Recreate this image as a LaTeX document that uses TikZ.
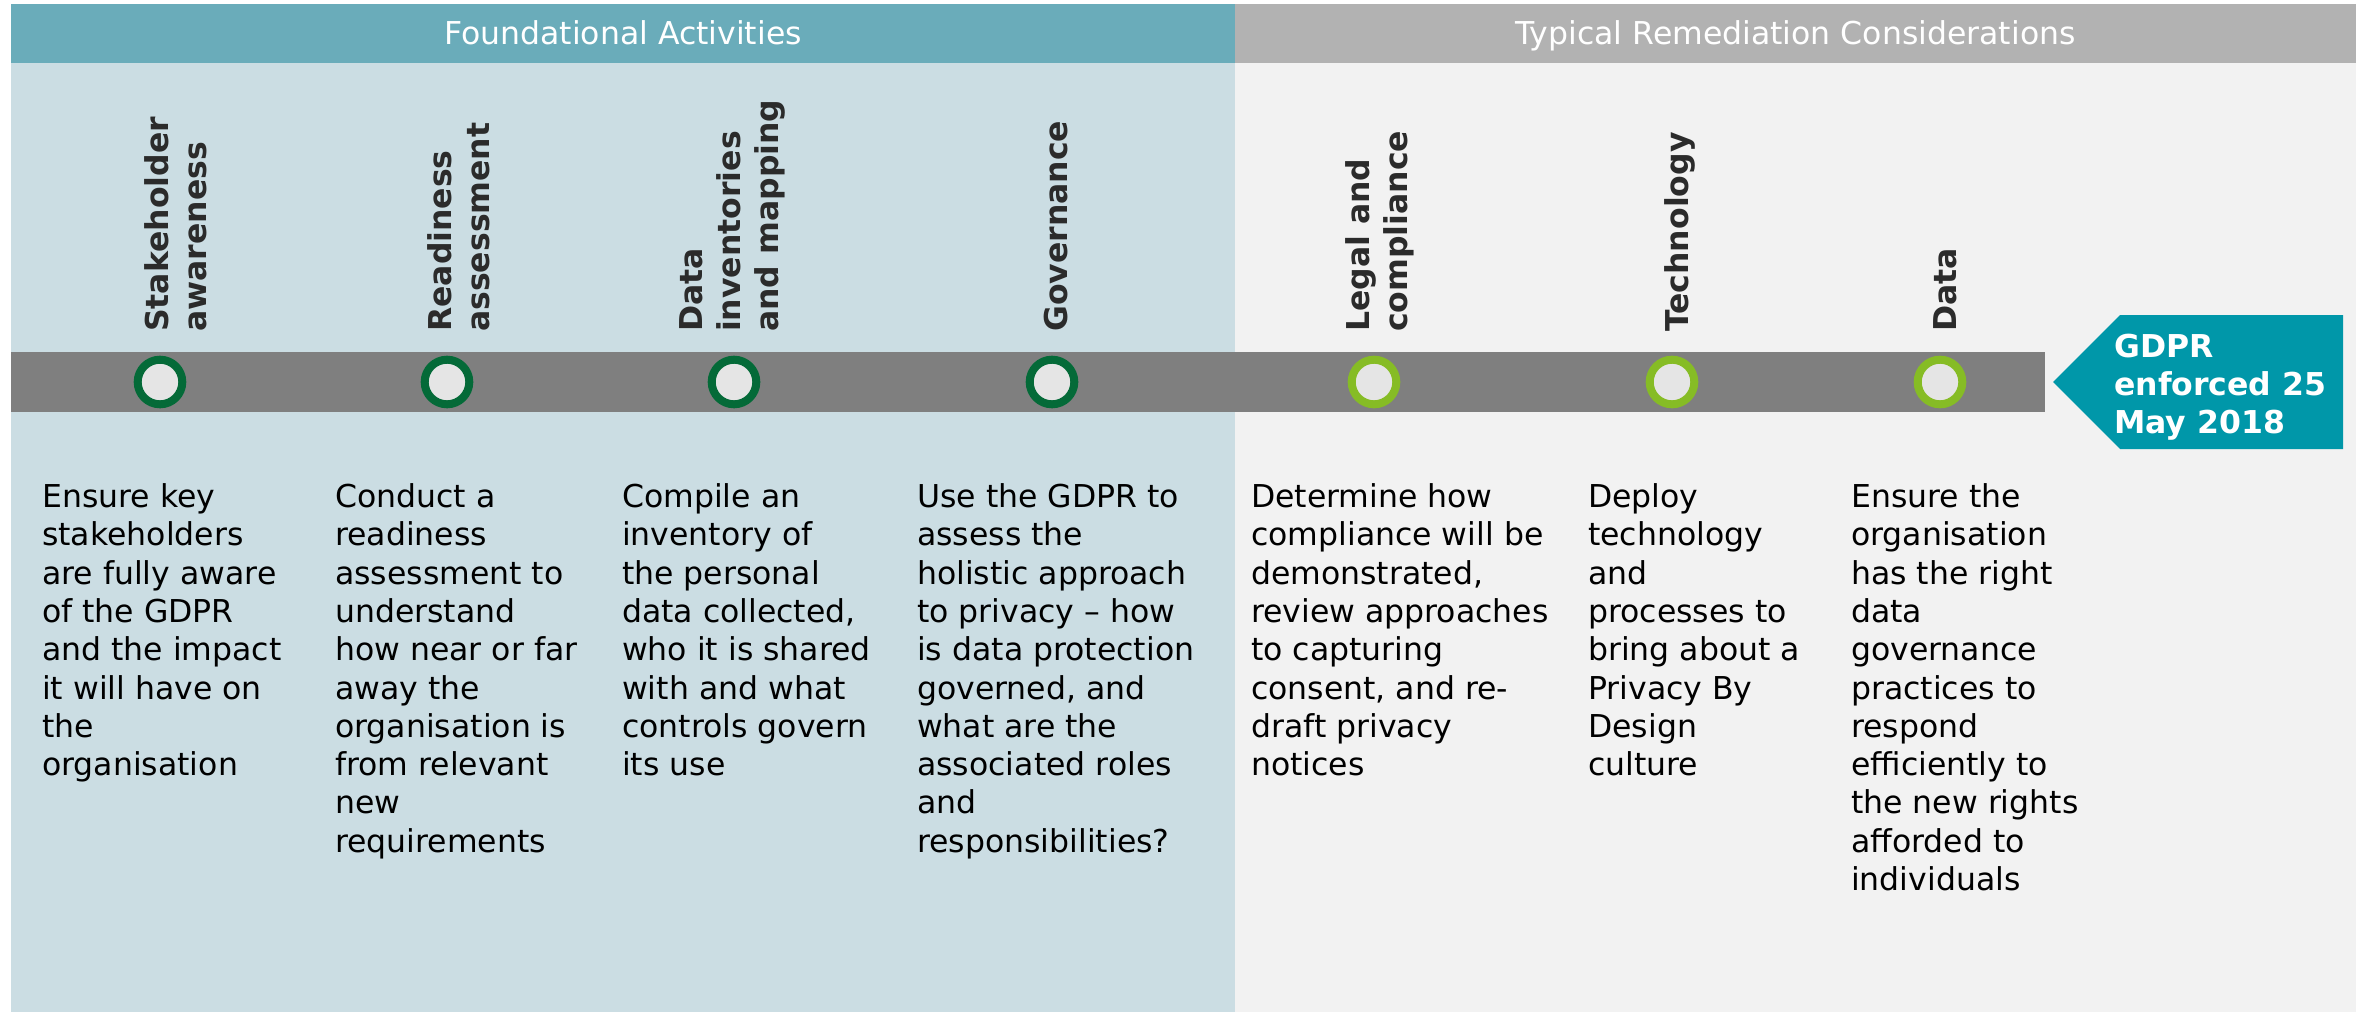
\documentclass[tikz,border=0pt]{standalone}
\usepackage{fontspec}
\setmainfont{DejaVu Sans}
\definecolor{headTeal}{HTML}{6AACBA}
\definecolor{bodyBlue}{HTML}{CBDDE3}
\definecolor{headGrey}{HTML}{B2B2B2}
\definecolor{bodyGrey}{HTML}{F2F2F2}
\definecolor{barGrey}{HTML}{7F7F7F}
\definecolor{darkGreen}{HTML}{046A38}
\definecolor{lightGreen}{HTML}{86BC25}
\definecolor{ringFill}{HTML}{E5E5E5}
\definecolor{tagTeal}{HTML}{0097A9}
\definecolor{labelGrey}{HTML}{2B2B2B}
\newcommand{\bodyfont}{\fontsize{31.5}{38.3}\selectfont}
\newcommand{\btext}[1]{\parbox[t]{330pt}{\bodyfont\raggedright #1}}
\newcommand{\ltext}[1]{\parbox[t]{330pt}{\bodyfont\bfseries\raggedright #1}}
\tikzset{
  bodytext/.style={anchor=base west, inner sep=0pt, text=black},
  vlabel/.style={rotate=90, anchor=base west, inner sep=0pt, text=labelGrey},
  headtext/.style={anchor=base, inner sep=0pt, text=white, font=\bodyfont},
  ringdark/.style={circle, draw=darkGreen, line width=8pt, fill=ringFill, minimum size=44.6pt, inner sep=0pt},
  ringlight/.style={circle, draw=lightGreen, line width=8pt, fill=ringFill, minimum size=44.6pt, inner sep=0pt},
}
\begin{document}
\begin{tikzpicture}[x=1pt,y=-1pt]
\useasboundingbox (0,0) rectangle (2362,1012);
% backgrounds
\fill[bodyBlue] (11,63) rectangle (1235,1012);
\fill[bodyGrey] (1235,63) rectangle (2356,1012);
\fill[headTeal] (11,4) rectangle (1235,63);
\fill[headGrey] (1235,4) rectangle (2356,63);
\node[headtext] (h1) at (623,44) {Foundational Activities};
\node[headtext] (h2) at (1795.5,44) {Typical Remediation Considerations};
% timeline bar
\fill[barGrey] (11,352) rectangle (2045,412);
% GDPR tag
\fill[tagTeal] (2053,382) -- (2120,315) -- (2343,315) -- (2343,449) -- (2120,449) -- cycle;
\node[anchor=base west, inner sep=0pt, text=white] (gdpr) at (2114,357)
  {\parbox[t]{240pt}{\bodyfont\bfseries\raggedright GDPR\\enforced 25\\May 2018}};
% circles
\node[ringdark] (c1) at (160,382) {};
\node[ringdark] (c2) at (447,382) {};
\node[ringdark] (c3) at (734,382) {};
\node[ringdark] (c4) at (1052,382) {};
\node[ringlight] (c5) at (1374,382) {};
\node[ringlight] (c6) at (1672,382) {};
\node[ringlight] (c7) at (1940,382) {};
% vertical labels
\node[vlabel] (l1) at (168,332) {\ltext{Stakeholder\\awareness}};
\node[vlabel] (l2) at (451,332) {\ltext{Readiness\\assessment}};
\node[vlabel] (l3) at (702,332) {\ltext{Data\\inventories\\and mapping}};
\node[vlabel] (l4) at (1067,332) {\ltext{Governance}};
\node[vlabel] (l5) at (1369,332) {\ltext{Legal and\\compliance}};
\node[vlabel] (l6) at (1688,332) {\ltext{Technology}};
\node[vlabel] (l7) at (1956,332) {\ltext{Data}};
% body texts
\node[bodytext] (t1) at (42,507.5) {\btext{Ensure key\\stakeholders\\are fully aware\\of the GDPR\\and the impact\\it will have on\\the\\organisation}};
\node[bodytext] (t2) at (335,507.5) {\btext{Conduct a\\readiness\\assessment to\\understand\\how near or far\\away the\\organisation is\\from relevant\\new\\requirements}};
\node[bodytext] (t3) at (622,507.5) {\btext{Compile an\\inventory of\\the personal\\data collected,\\who it is shared\\with and what\\controls govern\\its use}};
\node[bodytext] (t4) at (917,507.5) {\btext{Use the GDPR to\\assess the\\holistic approach\\to privacy – how\\is data protection\\governed, and\\what are the\\associated roles\\and\\responsibilities?}};
\node[bodytext] (t5) at (1251,507.5) {\btext{Determine how\\compliance will be\\demonstrated,\\review approaches\\to capturing\\consent, and re-\\draft privacy\\notices}};
\node[bodytext] (t6) at (1588,507.5) {\btext{Deploy\\technology\\and\\processes to\\bring about a\\Privacy By\\Design\\culture}};
\node[bodytext] (t7) at (1851,507.5) {\btext{Ensure the\\organisation\\has the right\\data\\governance\\practices to\\respond\\efficiently to\\the new rights\\afforded to\\individuals}};
\end{tikzpicture}
\end{document}
